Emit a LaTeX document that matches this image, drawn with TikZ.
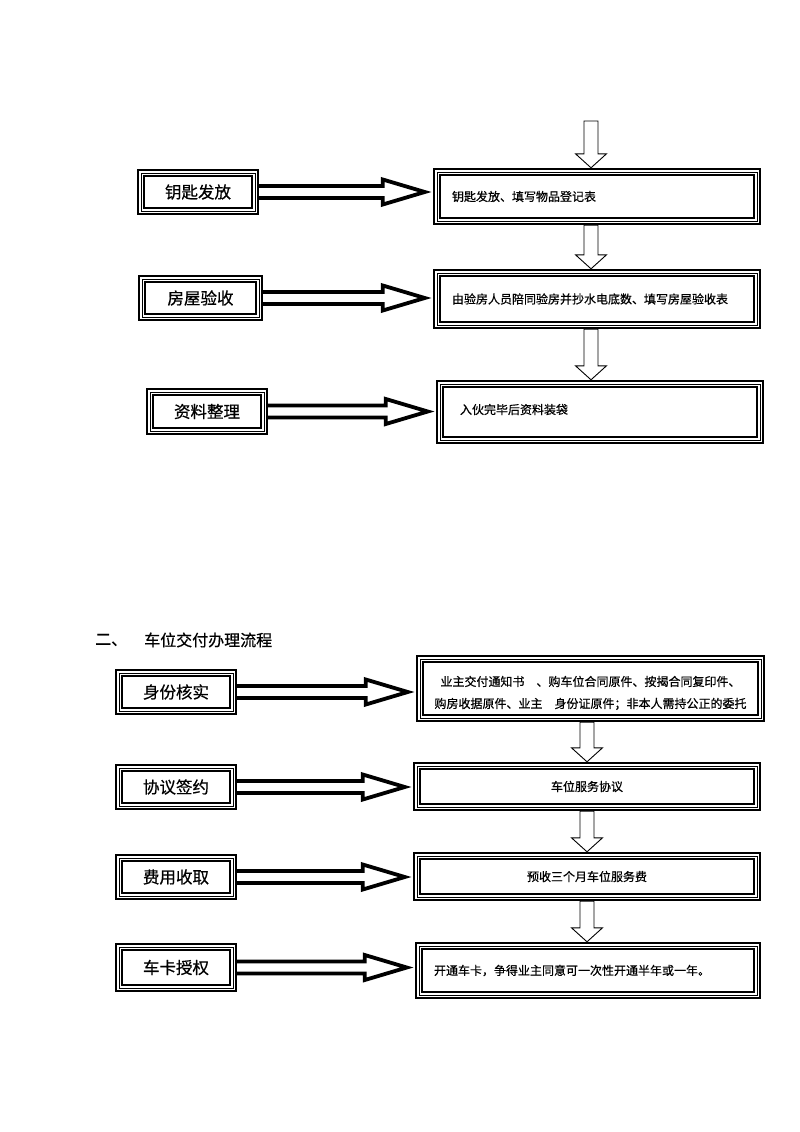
\documentclass[tikz,border=0pt]{standalone}
\usepackage{fontspec}
\setmainfont{Noto Sans CJK SC}[FakeBold=0.6]
\usetikzlibrary{calc}
\tikzset{
  tribox/.style={draw, line width=2.4pt, fill=white, inner sep=0pt,
    path picture={
      \draw[line width=0.9pt] ([shift={(3pt,-3pt)}]path picture bounding box.north west) rectangle ([shift={(-3pt,3pt)}]path picture bounding box.south east);
      \draw[line width=1.8pt] ([shift={(6pt,-6pt)}]path picture bounding box.north west) rectangle ([shift={(-6pt,6pt)}]path picture bounding box.south east);
    }},
  lbox/.style={tribox, font=\fontsize{16.5}{20}\selectfont, align=center},
  rbox/.style={tribox, font=\fontsize{12}{14}\selectfont},
  harr/.style={draw, line width=3.8pt, miter limit=10, line join=miter},
  varr/.style={draw, line width=0.9pt, fill=white, line join=miter},
  head/.style={inner sep=0pt, anchor=west, font=\fontsize{16}{19}\selectfont}
}
\newcommand\harrow[2]{\draw[harr] let \p1=(#1.east), \p2=(#2.west) in
  (\x1,\y1+6pt) -- (\x2-50pt,\y1+6pt) -- (\x2-50pt,\y1+12.5pt) -- (\x2-8pt,\y1)
  -- (\x2-50pt,\y1-12.5pt) -- (\x2-50pt,\y1-6pt) -- (\x1,\y1-6pt);}
\newcommand\varrow[3]{\draw[varr] let \p1=(#1), \p2=(#2), \p3=(#3,0) in
  (\x3-7pt,\y1) -- (\x3-7pt,\y2+14pt) -- (\x3-15.5pt,\y2+14pt) -- (\x3,\y2)
  -- (\x3+15.5pt,\y2+14pt) -- (\x3+7pt,\y2+14pt) -- (\x3+7pt,\y1) -- cycle;}
\begin{document}
\begin{tikzpicture}[x=1pt,y=-1pt]
\useasboundingbox[fill=white] (0,0) rectangle (800,1132);

% Section 1
\node[lbox, minimum width=120, minimum height=44] (L1) at (198,192) {钥匙发放};
\node[lbox, minimum width=123, minimum height=44] (L2) at (200.5,298) {房屋验收};
\node[lbox, minimum width=120, minimum height=45] (L3) at (207,411.5) {资料整理};

\node[rbox, minimum width=326, minimum height=55, text width=290, inner xsep=18, align=left] (R1) at (597,196.5) {钥匙发放、填写物品登记表};
\node[rbox, minimum width=326, minimum height=58, text width=290, inner xsep=18, align=left] (R2) at (597,299) {由验房人员陪同验房并抄水电底数、填写房屋验收表};
\node[rbox, minimum width=326, minimum height=62, text width=280, inner xsep=23, align=left] (R3) at (600,412) {\raisebox{6pt}{入伙完毕后资料装袋}};

\coordinate (top) at (591,121);
\varrow{top}{R1.north}{591}
\varrow{R1.south}{R2.north}{591}
\varrow{R2.south}{R3.north}{591}

\harrow{L1}{R1}
\harrow{L2}{R2}
\harrow{L3}{R3}

% Section 2
\node[head] (h1) at (95,640) {二、};
\node[head] (h2) at (144,640) {车位交付办理流程};

\node[lbox, minimum width=120, minimum height=44] (LA) at (176,692) {身份核实};
\node[lbox, minimum width=120, minimum height=44] (LB) at (176,787) {协议签约};
\node[lbox, minimum width=120, minimum height=44] (LC) at (176,877) {费用收取};
\node[lbox, minimum width=120, minimum height=47] (LD) at (176,967.5) {车卡授权};

\node[rbox, minimum width=347, minimum height=65, align=center, font=\fontsize{12}{22}\selectfont] (RA) at (590.5,688.5) {\rule{0pt}{19pt}业主交付通知书　、购车位合同原件、按揭合同复印件、\\购房收据原件、业主　身份证原件；非本人需持公正的委托};
\node[rbox, minimum width=346, minimum height=47, align=center] (RB) at (587,786.5) {车位服务协议};
\node[rbox, minimum width=346, minimum height=47, align=center] (RC) at (587,876.5) {预收三个月车位服务费};
\node[rbox, minimum width=344, minimum height=55, text width=308, inner xsep=18, align=left] (RD) at (588,970.5) {开通车卡，争得业主同意可一次性开通半年或一年。};

\varrow{RA.south}{RB.north}{587}
\varrow{RB.south}{RC.north}{587}
\varrow{RC.south}{RD.north}{587}

\harrow{LA}{RA}
\harrow{LB}{RB}
\harrow{LC}{RC}
\harrow{LD}{RD}
\end{tikzpicture}
\end{document}
